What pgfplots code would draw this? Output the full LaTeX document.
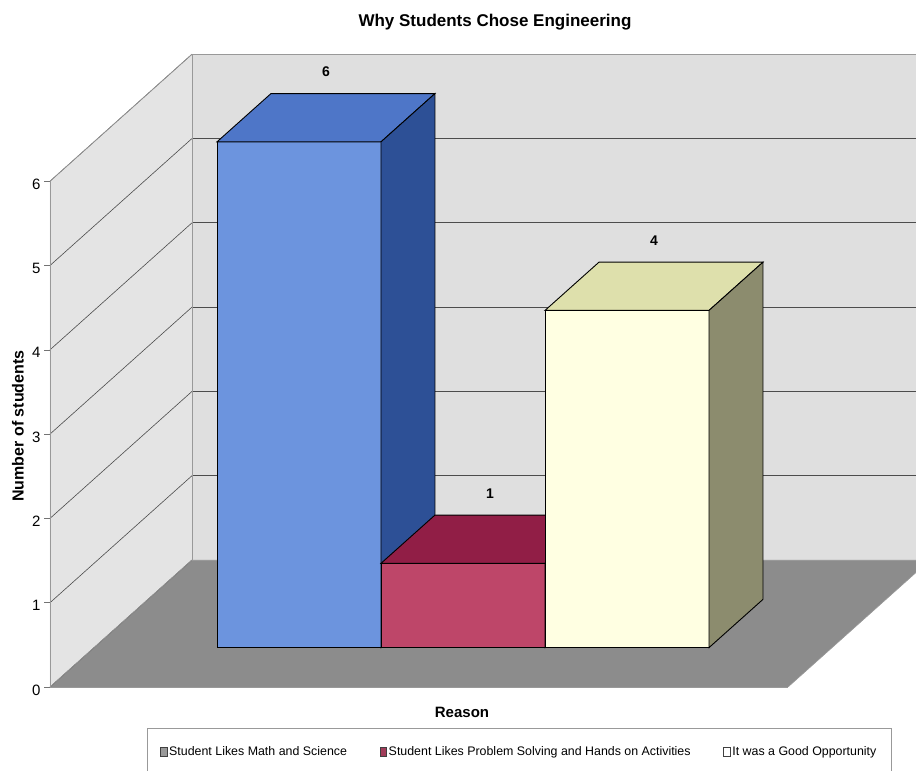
\documentclass[border=0pt]{standalone}
\usepackage{pgfplots}
\pgfplotsset{compat=1.18}
\usepackage{fontspec}
\setmainfont{Liberation Sans}
\usetikzlibrary{calc}

\definecolor{wallL}{RGB}{228,228,228}
\definecolor{wallB}{RGB}{223,223,223}
\definecolor{floorc}{RGB}{140,140,140}
\definecolor{bAfront}{RGB}{108,148,222}
\definecolor{bAtop}{RGB}{78,118,200}
\definecolor{bAside}{RGB}{45,80,150}
\definecolor{bBfront}{RGB}{190,70,105}
\definecolor{bBtop}{RGB}{145,30,70}
\definecolor{bBside}{RGB}{110,20,50}
\definecolor{bCfront}{RGB}{255,255,226}
\definecolor{bCtop}{RGB}{222,224,172}
\definecolor{bCside}{RGB}{140,140,110}

\begin{document}
\begin{tikzpicture}
\begin{axis}[
  set layers,
  x={(164pt,0pt)}, y={(142pt,127pt)}, z={(0pt,84.3pt)},
  xmin=0, xmax=4.5, ymin=0, ymax=1, zmin=0, zmax=6,
  xtick=\empty, ytick=\empty, ztick={0,1,2,3,4,5,6},
  ztick pos=left,
  zmajorgrids,
  major grid style={black!70, line width=0.6pt},
  axis line style={black!40, line width=0.6pt},
  major tick length=0pt,
  tick label style={font=\fontsize{15}{17}\selectfont},
  z tick label style={xshift=-6pt},
  /pgf/number format/assume math mode=true,
  clip=false,
  legend columns=3,
  legend style={at={(rel axis cs:0,0,0)}, anchor=north west,
    xshift=97pt, yshift=-41pt, draw=black!40, line width=0.6pt,
    font=\fontsize{12.4}{14}\selectfont,
    inner xsep=13pt, inner ysep=17pt,
    nodes={inner xsep=1.8pt, inner ysep=1pt},
    /tikz/every even column/.append style={column sep=31pt}},
]
% walls and floor
\addplot3[on layer=axis background, fill=wallL, draw=none, forget plot]
  coordinates {(0,0,0) (0,1,0) (0,1,6) (0,0,6)} -- cycle;
\addplot3[on layer=axis background, fill=wallB, draw=none, forget plot]
  coordinates {(0,1,0) (4.5,1,0) (4.5,1,6) (0,1,6)} -- cycle;
\addplot3[on layer=axis background, fill=floorc, draw=none, forget plot]
  coordinates {(0,0,0) (4.5,0,0) (4.5,1,0) (0,1,0)} -- cycle;

% outward tick marks on the front-left edge
\pgfplotsinvokeforeach{0,1,2,3,4,5,6}{
  \addplot3[black!55, line width=0.5pt, forget plot]
    coordinates {(-0.035,0,#1) (0,0,#1)};
}

% bar 1: Student Likes Math and Science = 6
\addplot3[fill=bAfront, draw=black, line width=0.9pt, forget plot]
  coordinates {(0.75,0.31,0) (1.75,0.31,0) (1.75,0.31,6) (0.75,0.31,6)} -- cycle;
\addplot3[fill=bAtop, draw=black, line width=0.9pt, forget plot]
  coordinates {(0.75,0.31,6) (1.75,0.31,6) (1.75,0.69,6) (0.75,0.69,6)} -- cycle;
\addplot3[fill=bAside, draw=black, line width=0.9pt, forget plot]
  coordinates {(1.75,0.31,0) (1.75,0.69,0) (1.75,0.69,6) (1.75,0.31,6)} -- cycle;

% bar 2: Problem Solving = 1
\addplot3[fill=bBfront, draw=black, line width=0.9pt, forget plot]
  coordinates {(1.75,0.31,0) (2.75,0.31,0) (2.75,0.31,1) (1.75,0.31,1)} -- cycle;
\addplot3[fill=bBtop, draw=black, line width=0.9pt, forget plot]
  coordinates {(1.75,0.31,1) (2.75,0.31,1) (2.75,0.69,1) (1.75,0.69,1)} -- cycle;
\addplot3[fill=bBside, draw=black, line width=0.9pt, forget plot]
  coordinates {(2.75,0.31,0) (2.75,0.69,0) (2.75,0.69,1) (2.75,0.31,1)} -- cycle;

% bar 3: Good Opportunity = 4
\addplot3[fill=bCfront, draw=black, line width=0.9pt, forget plot]
  coordinates {(2.75,0.31,0) (3.75,0.31,0) (3.75,0.31,4) (2.75,0.31,4)} -- cycle;
\addplot3[fill=bCtop, draw=black, line width=0.9pt, forget plot]
  coordinates {(2.75,0.31,4) (3.75,0.31,4) (3.75,0.69,4) (2.75,0.69,4)} -- cycle;
\addplot3[fill=bCside, draw=black, line width=0.9pt, forget plot]
  coordinates {(3.75,0.31,0) (3.75,0.69,0) (3.75,0.69,4) (3.75,0.31,4)} -- cycle;

% data labels
\addplot3[draw=none, mark=none, forget plot, point meta=z,
  nodes near coords={\pgfmathprintnumber{\pgfplotspointmeta}},
  nodes near coords style={anchor=center, yshift=46pt,
    font=\bfseries\fontsize{14}{16}\selectfont}]
  coordinates {(1.25,0.5,6) (2.25,0.5,1) (3.25,0.5,4)};

\addlegendimage{legend image code/.code={\draw[fill=black!40, draw=black!75] (0pt,-4.5pt) rectangle (6.5pt,4.5pt);}}
\addlegendentry{Student Likes Math and Science}
\addlegendimage{legend image code/.code={\draw[fill=bBfront!85!black, draw=black!75] (0pt,-4.5pt) rectangle (6.5pt,4.5pt);}}
\addlegendentry{Student Likes Problem Solving and Hands on Activities}
\addlegendimage{legend image code/.code={\draw[fill=white, draw=black!75] (0pt,-4.5pt) rectangle (6.5pt,4.5pt);}}
\addlegendentry{It was a Good Opportunity}

\coordinate (O) at (rel axis cs:0,0,0);
\end{axis}
\node[font=\bfseries\fontsize{17}{20}\selectfont] at ($(O)+(445pt,665pt)$) {Why Students Chose Engineering};
\node[font=\bfseries\fontsize{16}{18}\selectfont, rotate=90] at ($(O)+(-32pt,261pt)$) {Number of students};
\node[font=\bfseries\fontsize{15}{17}\selectfont] at ($(O)+(412pt,-25pt)$) {Reason};
\pgfresetboundingbox
\useasboundingbox ($(O)+(-50pt,-84pt)$) rectangle ($(O)+(866pt,687pt)$);
\end{tikzpicture}
\end{document}
